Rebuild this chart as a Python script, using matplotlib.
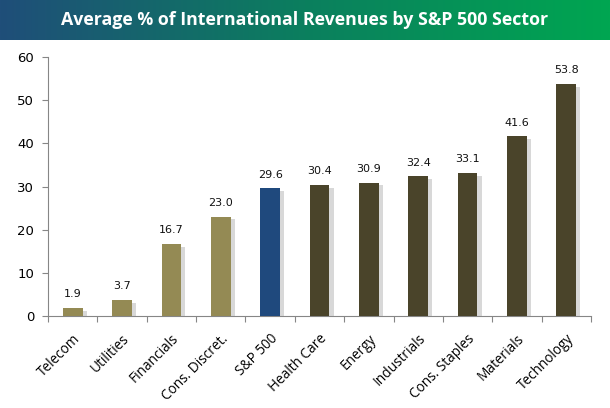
import matplotlib.pyplot as plt
import matplotlib.patheffects as pe
import numpy as np
from matplotlib.colors import LinearSegmentedColormap

sectors = ['Telecom', 'Utilities', 'Financials', 'Cons. Discret.', 'S&P 500',
           'Health Care', 'Energy', 'Industrials', 'Cons. Staples', 'Materials',
           'Technology']
values = [1.9, 3.7, 16.7, 23.0, 29.6, 30.4, 30.9, 32.4, 33.1, 41.6, 53.8]
groups = ['low', 'low', 'low', 'low', 'index', 'high', 'high', 'high', 'high',
          'high', 'high']
group_colors = {'low': '#948A54', 'index': '#1F497D', 'high': '#4A442A'}

fig = plt.figure(figsize=(6.10, 4.08), dpi=100)

# title banner with gradient
ban = fig.add_axes([0, 1 - 40 / 408, 1, 40 / 408])
cmap = LinearSegmentedColormap.from_list('ban', ['#1F4E79', '#0B7F5E', '#00A651'])
ban.imshow(np.linspace(0, 1, 256).reshape(1, -1), aspect='auto', cmap=cmap,
           extent=[0, 1, 0, 1])
ban.set_axis_off()
ban.text(0.5, 0.5, 'Average % of International Revenues by S&P 500 Sector',
         color='white', fontsize=12.8, fontweight='bold', family='Open Sans',
         ha='center', va='center')

ax = fig.add_axes([48 / 610, 1 - 316 / 408, (591 - 48) / 610, (316 - 57) / 408])
x = np.arange(len(sectors))
cols = [group_colors[g] for g in groups]
bars = ax.bar(x, values, width=0.4, color=cols, zorder=3)
for b in bars:
    b.set_path_effects([pe.SimplePatchShadow(offset=(3, -2), shadow_rgbFace='#aaaaaa',
                                             alpha=0.45), pe.Normal()])

for xi, v in zip(x, values):
    ax.text(xi, v + 2, f'{v:.1f}', ha='center', va='bottom', fontsize=8,
            family='DejaVu Sans', color='#111111')

ax.set_xlim(-0.5, len(sectors) - 0.5)
ax.set_ylim(0, 60)
ax.set_yticks(range(0, 61, 10))
ax.set_xticks(np.arange(-0.5, len(sectors), 1), minor=False)
ax.set_xticklabels([])
ax.set_xticks(x, minor=True)
ax.set_xticklabels(sectors, minor=True, rotation=45, ha='right',
                   rotation_mode='anchor', fontsize=9.8, family='Open Sans')
ax.tick_params(axis='x', which='minor', length=0, pad=11)
ax.tick_params(axis='x', which='major', length=4, color='#868686')
ax.tick_params(axis='y', length=4, color='#868686', labelsize=9.5, pad=6)
for s in ['top', 'right']:
    ax.spines[s].set_visible(False)
for s in ['left', 'bottom']:
    ax.spines[s].set_color('#868686')

fig.savefig('out.png', dpi=100)
